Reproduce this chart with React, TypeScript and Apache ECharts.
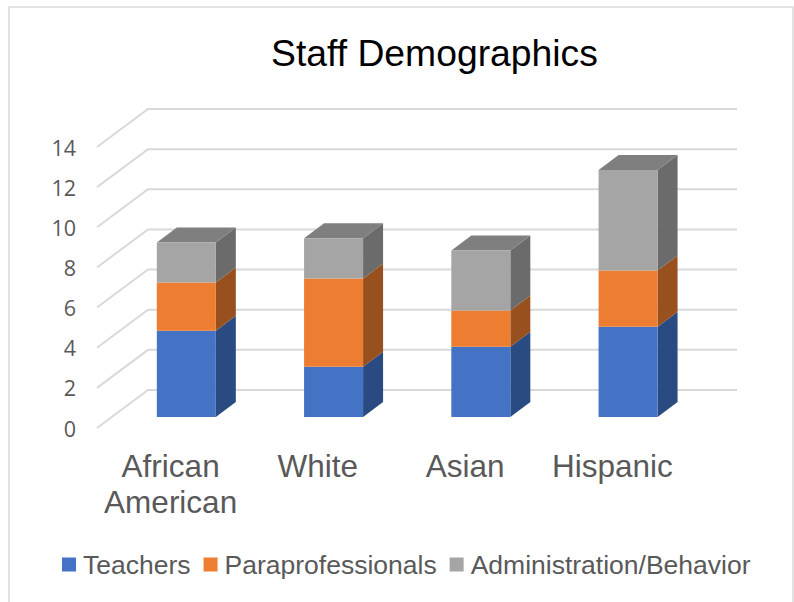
import React, { useEffect, useRef } from "react";
import * as echarts from "echarts";

const categories = ["African\nAmerican", "White", "Asian", "Hispanic"];
const yTicks = [0, 2, 4, 6, 8, 10, 12, 14];
const teachers = [4.3, 2.5, 3.5, 4.5];
const paraprofessionals = [2.4, 4.4, 1.8, 2.8];
const administration = [2.0, 2.0, 3.0, 5.0];

const FRONT_DX = 15.7;
const FRONT_DY = -11;
const BAR_W = 59;
const SIDE_DX = 20;
const SIDE_DY = -15;
const WALL_DX = 51;
const WALL_DY = -38;

const stackRows = (values: number[], below: number[][]) =>
  values.map((v, i) => {
    const base = below.reduce((s, arr) => s + arr[i], 0);
    return [i, base, base + v];
  });

const barSeries = (
  name: string,
  rows: number[][],
  front: string,
  side: string,
  top: string | null
) => ({
  type: "custom",
  name,
  silent: true,
  clip: false,
  z: 3,
  itemStyle: { color: front },
  encode: { x: 0, y: [1, 2] },
  data: rows,
  renderItem: (_p: any, api: any) => {
    const lo = api.coord([api.value(0), api.value(1)]);
    const hi = api.coord([api.value(0), api.value(2)]);
    const x0 = lo[0] + FRONT_DX - BAR_W / 2;
    const x1 = x0 + BAR_W;
    const yb = lo[1] + FRONT_DY;
    const yt = hi[1] + FRONT_DY;
    const children: any[] = [
      {
        type: "polygon",
        shape: { points: [[x1, yb], [x1 + SIDE_DX, yb + SIDE_DY], [x1 + SIDE_DX, yt + SIDE_DY], [x1, yt]] },
        style: { fill: side },
      },
    ];
    if (top) {
      children.push({
        type: "polygon",
        shape: { points: [[x0, yt], [x0 + SIDE_DX, yt + SIDE_DY], [x1 + SIDE_DX, yt + SIDE_DY], [x1, yt]] },
        style: { fill: top },
      });
    }
    children.push({
      type: "rect",
      shape: { x: x0, y: yt, width: BAR_W, height: yb - yt },
      style: { fill: front },
    });
    return { type: "group", children };
  },
});

export default function App() {
  const ref = useRef<HTMLDivElement>(null);
  useEffect(() => {
    const chart = echarts.init(ref.current!, undefined, { renderer: "svg" });
    chart.setOption({
      animation: false,
      backgroundColor: "#ffffff",
      title: {
        text: "Staff Demographics",
        left: 266,
        top: 29,
        textStyle: { fontFamily: "Liberation Sans", fontSize: 37.3, fontWeight: "normal", color: "#000000" },
      },
      legend: {
        data: ["Teachers", "Paraprofessionals", "Administration/Behavior"],
        left: 57,
        top: 546,
        icon: "rect",
        itemWidth: 14,
        itemHeight: 14,
        itemGap: 13,
        textStyle: { fontFamily: "Liberation Sans", fontSize: 26.5, color: "#595959", padding: [0, 0, 0, 2] },
      },
      graphic: [
        {
          type: "rect",
          silent: true,
          z: -1,
          shape: { x: 9, y: 7, width: 784, height: 600 },
          style: { fill: "none", stroke: "#d9d9d9", lineWidth: 1.5 },
        },
      ],
      grid: { left: 97, right: 108, top: 147, bottom: 174 },
      xAxis: {
        type: "category",
        data: categories,
        axisLine: { show: false },
        axisTick: { show: false },
        splitLine: { show: false },
        axisLabel: {
          interval: 0,
          margin: 20,
          fontFamily: "Liberation Sans",
          fontSize: 31.5,
          lineHeight: 36,
          color: "#595959",
        },
      },
      yAxis: {
        type: "value",
        min: 0,
        max: 14,
        interval: 2,
        axisLine: { show: false },
        axisTick: { show: false },
        splitLine: { show: false },
        axisLabel: { margin: 21, fontFamily: "Open Sans", fontSize: 21.5, color: "#595959", padding: [2, 0, 0, 0] },
      },
      series: [
        {
          type: "custom",
          name: "gridlines",
          silent: true,
          clip: false,
          z: 1,
          encode: { x: 0, y: 1 },
          data: yTicks.map((t) => [0, t]),
          renderItem: (p: any, api: any) => {
            const y = api.coord([0, api.value(1)])[1];
            const left = p.coordSys.x;
            const right = left + p.coordSys.width;
            return {
              type: "polyline",
              shape: {
                points: [
                  [left, y],
                  [left + WALL_DX, y + WALL_DY],
                  [right + WALL_DX, y + WALL_DY],
                ],
              },
              style: { fill: "none", stroke: "#d9d9d9", lineWidth: 2 },
            };
          },
        },
        barSeries("Teachers", stackRows(teachers, []), "#4472C4", "#2A4A82", null),
        barSeries("Paraprofessionals", stackRows(paraprofessionals, [teachers]), "#ED7D31", "#98501F", null),
        barSeries(
          "Administration/Behavior",
          stackRows(administration, [teachers, paraprofessionals]),
          "#A5A5A5",
          "#6B6B6B",
          "#7F7F7F"
        ),
      ],
    });
    return () => chart.dispose();
  }, []);
  return <div ref={ref} style={{ position: "fixed", left: 0, top: 0, width: 794, height: 602 }} />;
}
